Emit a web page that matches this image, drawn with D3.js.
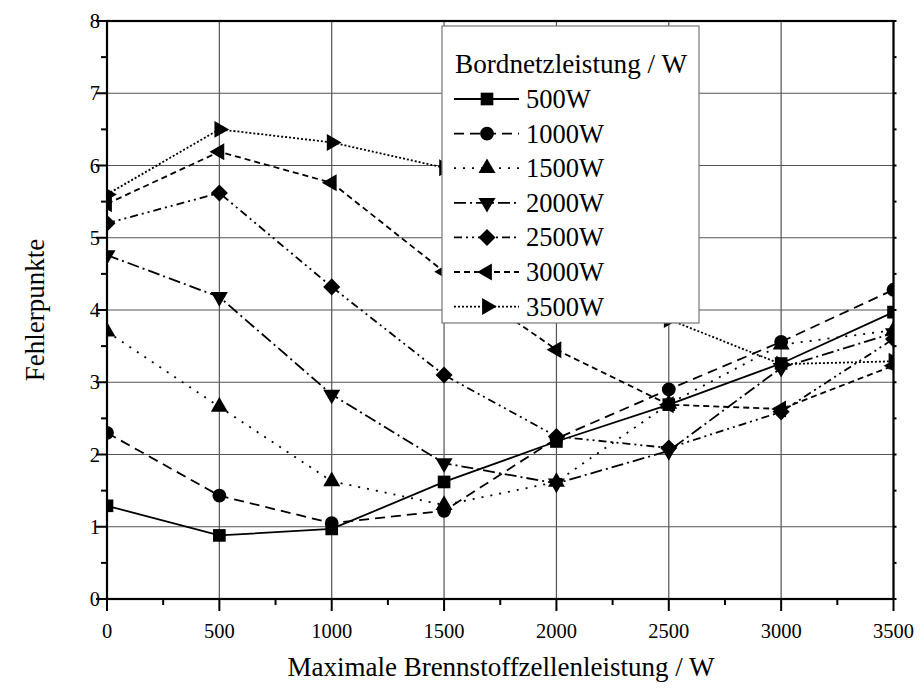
<!DOCTYPE html>
<html><head><meta charset="utf-8">
<script src="https://cdn.jsdelivr.net/npm/d3@7"></script>
<style>body{margin:0;background:#fff}svg{display:block}</style>
</head><body>
<script>
const xValues = [0,500,1000,1500,2000,2500,3000,3500];
const seriesNames = ["500W","1000W","1500W","2000W","2500W","3000W","3500W"];
const s500  = [1.29,0.88,0.97,1.62,2.18,2.69,3.26,3.97];
const s1000 = [2.30,1.43,1.05,1.22,2.22,2.90,3.56,4.28];
const s1500 = [3.70,2.66,1.63,1.30,1.62,2.70,3.52,3.72];
const s2000 = [4.76,4.18,2.83,1.88,1.60,2.05,3.20,3.68];
const s2500 = [5.20,5.62,4.32,3.10,2.25,2.09,2.59,3.60];
const s3000 = [5.47,6.19,5.76,4.53,3.45,2.69,2.63,3.23];
const s3500 = [5.60,6.50,6.32,5.97,4.90,3.87,3.25,3.29];
const seriesValues = [s500,s1000,s1500,s2000,s2500,s3000,s3500];
const xTicks = [0,500,1000,1500,2000,2500,3000,3500];
const yTicks = [0,1,2,3,4,5,6,7,8];
const legendTitle = "Bordnetzleistung / W";
const xTitle = "Maximale Brennstoffzellenleistung / W";
const yTitle = "Fehlerpunkte";

const FONT = "'Liberation Serif','Times New Roman',Times,serif";
const W = 922, H = 691;
const L = 107, R = 893.5, T = 21, B = 599;
const x = d3.scaleLinear().domain([0,3500]).range([L,R]);
const y = d3.scaleLinear().domain([0,8]).range([B,T]);

const dashes = [null,"10,6","2,7","12,4,2,4","8,4,2,4,2,4","6,4","2,2"];
const symbols = [
  {t:d3.symbolSquare, s:160, r:0},
  {t:d3.symbolCircle, s:150, r:0},
  {t:d3.symbolTriangle, s:125, r:0},
  {t:d3.symbolTriangle, s:125, r:180},
  {t:d3.symbolSquare, s:145, r:45},
  {t:d3.symbolTriangle, s:125, r:-90},
  {t:d3.symbolTriangle, s:125, r:90}
];

const svg = d3.select("body").append("svg").attr("width",W).attr("height",H);
svg.append("defs").append("clipPath").attr("id","clip")
  .append("rect").attr("x",L).attr("y",T).attr("width",R-L).attr("height",B-T);

// grid
const grid = svg.append("g");
xTicks.forEach(v=>grid.append("line").attr("x1",x(v)).attr("x2",x(v)).attr("y1",T).attr("y2",B).attr("stroke","#555").attr("stroke-width",1.2));
yTicks.forEach(v=>grid.append("line").attr("x1",L).attr("x2",R).attr("y1",y(v)).attr("y2",y(v)).attr("stroke","#555").attr("stroke-width",1.2));

// series
const plot = svg.append("g").attr("clip-path","url(#clip)");
const line = d3.line().x((d,i)=>x(xValues[i])).y(d=>y(d));
seriesValues.forEach((vals,k)=>{
  plot.append("path").attr("d",line(vals)).attr("fill","none").attr("stroke","#000")
    .attr("stroke-width",1.8).attr("stroke-dasharray",dashes[k]);
});
seriesValues.forEach((vals,k)=>{
  const sy = symbols[k];
  vals.forEach((v,i)=>{
    plot.append("path").attr("d",d3.symbol().type(sy.t).size(sy.s)())
      .attr("transform",`translate(${x(xValues[i])},${y(v)}) rotate(${sy.r})`).attr("fill","#000");
  });
});

// legend
const lg = svg.append("g");
lg.append("rect").attr("x",442).attr("y",26).attr("width",257).attr("height",297)
  .attr("fill","#fff").attr("stroke","#777").attr("stroke-width",1.2);
lg.append("text").attr("x",455).attr("y",73).attr("font-family",FONT).attr("font-size",27.2).text(legendTitle);
seriesNames.forEach((n,k)=>{
  const cy = 99 + k*34.6;
  lg.append("line").attr("x1",454).attr("x2",519).attr("y1",cy).attr("y2",cy)
    .attr("stroke","#000").attr("stroke-width",1.8).attr("stroke-dasharray",dashes[k]);
  const sy = symbols[k];
  lg.append("path").attr("d",d3.symbol().type(sy.t).size(sy.s)())
    .attr("transform",`translate(487,${cy}) rotate(${sy.r})`).attr("fill","#000");
  lg.append("text").attr("x",526).attr("y",cy+9).attr("font-family",FONT).attr("font-size",26.5).text(n);
});

// axes frame
svg.append("rect").attr("x",L).attr("y",T).attr("width",R-L).attr("height",B-T)
  .attr("fill","none").attr("stroke","#000").attr("stroke-width",2.2);

const ax = svg.append("g");
d3.range(0,3501,250).forEach(v=>{
  const major = v%500===0;
  ax.append("line").attr("x1",x(v)).attr("x2",x(v)).attr("y1",B).attr("y2",B+(major?12:6)).attr("stroke","#000").attr("stroke-width",2);
});
d3.range(0,8.01,0.5).forEach(v=>{
  const major = Math.abs(v-Math.round(v))<1e-6;
  ax.append("line").attr("x1",L).attr("x2",L-(major?11:6)).attr("y1",y(v)).attr("y2",y(v)).attr("stroke","#000").attr("stroke-width",2);
  ax.append("line").attr("x1",R).attr("x2",R+3).attr("y1",y(v)).attr("y2",y(v)).attr("stroke","#000").attr("stroke-width",2);
});
xTicks.forEach(v=>ax.append("text").attr("x",x(v)).attr("y",638).attr("text-anchor","middle")
  .attr("font-family",FONT).attr("font-size",20.5).text(v));
yTicks.forEach(v=>ax.append("text").attr("x",100).attr("y",y(v)+7).attr("text-anchor","end")
  .attr("font-family",FONT).attr("font-size",20.5).text(v));

svg.append("text").attr("x",501).attr("y",676).attr("text-anchor","middle")
  .attr("font-family",FONT).attr("font-size",27).text(xTitle);
svg.append("text").attr("transform","translate(44,310) rotate(-90)").attr("text-anchor","middle")
  .attr("font-family",FONT).attr("font-size",27).text(yTitle);
</script>
</body></html>
